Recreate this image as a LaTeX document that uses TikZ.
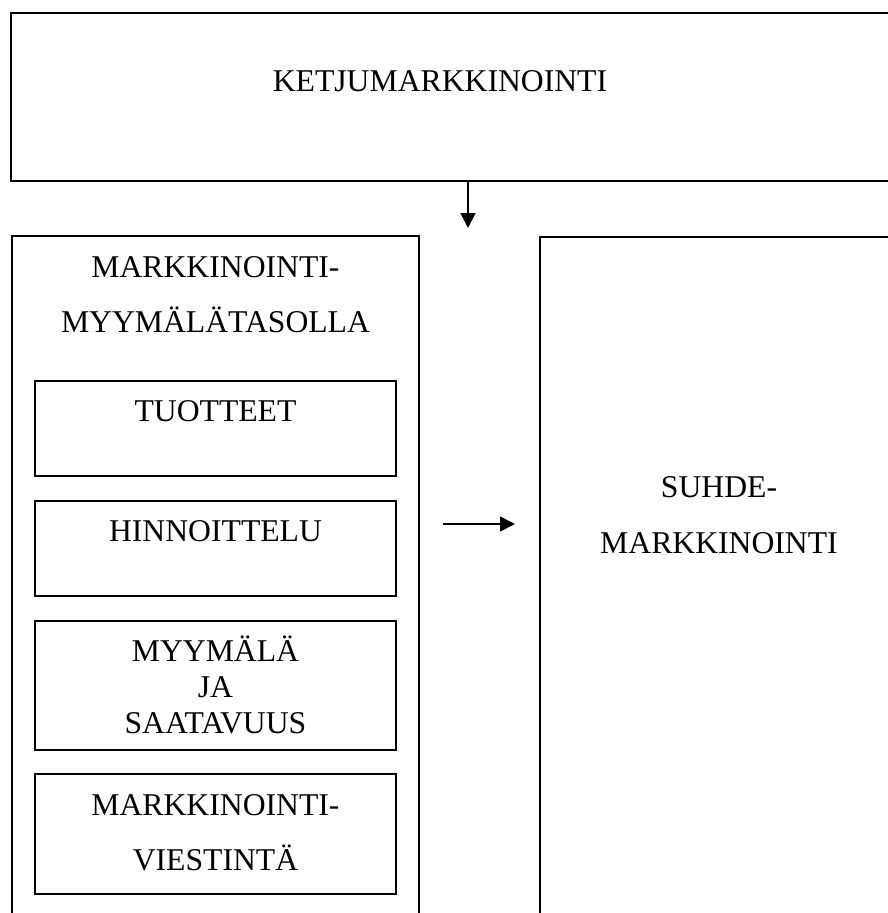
\documentclass[tikz,border=0pt]{standalone}
\usepackage{fontspec}
\setmainfont{Liberation Serif}
\usetikzlibrary{arrows.meta}
\begin{document}
\begin{tikzpicture}[x=1bp,y=-1bp,
  box/.style={draw, line width=1.3bp, rectangle, inner sep=0pt},
  lbl/.style={font=\fontsize{31.8}{38}\selectfont, anchor=base, inner sep=0pt},
  arr/.style={line width=1.6bp, -{Triangle[length=15bp,width=15bp]}}]
\useasboundingbox (0,0) rectangle (888,913);
\clip (0,0) rectangle (888,913);
% boxes
\node[box, minimum width=894bp, minimum height=168bp] (top) at (458,97) {};
\node[box, minimum width=407bp, minimum height=704bp] (left) at (215.5,588) {};
\node[box, minimum width=365bp, minimum height=703bp] (right) at (722.5,588.5) {};
\node[box, minimum width=361bp, minimum height=95bp] (tuot) at (215.5,428.5) {};
\node[box, minimum width=361bp, minimum height=95bp] (hinn) at (215.5,548.5) {};
\node[box, minimum width=361bp, minimum height=129bp] (myym) at (215.5,685.5) {};
\node[box, minimum width=361bp, minimum height=120bp] (viest) at (215.5,834) {};
% texts
\node[lbl] (tketju) at (440,91) {KETJUMARKKINOINTI};
\node[lbl] (tm1) at (215.5,277.5) {MARKKINOINTI-};
\node[lbl] (tm2) at (215.5,332) {MYYMÄLÄTASOLLA};
\node[lbl] (ttuot) at (215.5,421) {TUOTTEET};
\node[lbl] (thinn) at (215.5,541) {HINNOITTELU};
\node[lbl] (tmy1) at (215.5,661) {MYYMÄLÄ};
\node[lbl] (tmy2) at (215.5,697) {JA};
\node[lbl] (tmy3) at (215.5,733) {SAATAVUUS};
\node[lbl] (tv1) at (215.5,815) {MARKKINOINTI-};
\node[lbl] (tv2) at (215.5,870) {VIESTINTÄ};
\node[lbl] (ts1) at (719,497) {SUHDE-};
\node[lbl] (ts2) at (719,553) {MARKKINOINTI};
% arrows
\coordinate (a1) at (468,228);
\draw[arr] (top.south -| a1) -- (a1);
\coordinate (h1) at (443,524);
\coordinate (h2) at (515,524);
\draw[arr] (h1) -- (h2);
\end{tikzpicture}
\end{document}
